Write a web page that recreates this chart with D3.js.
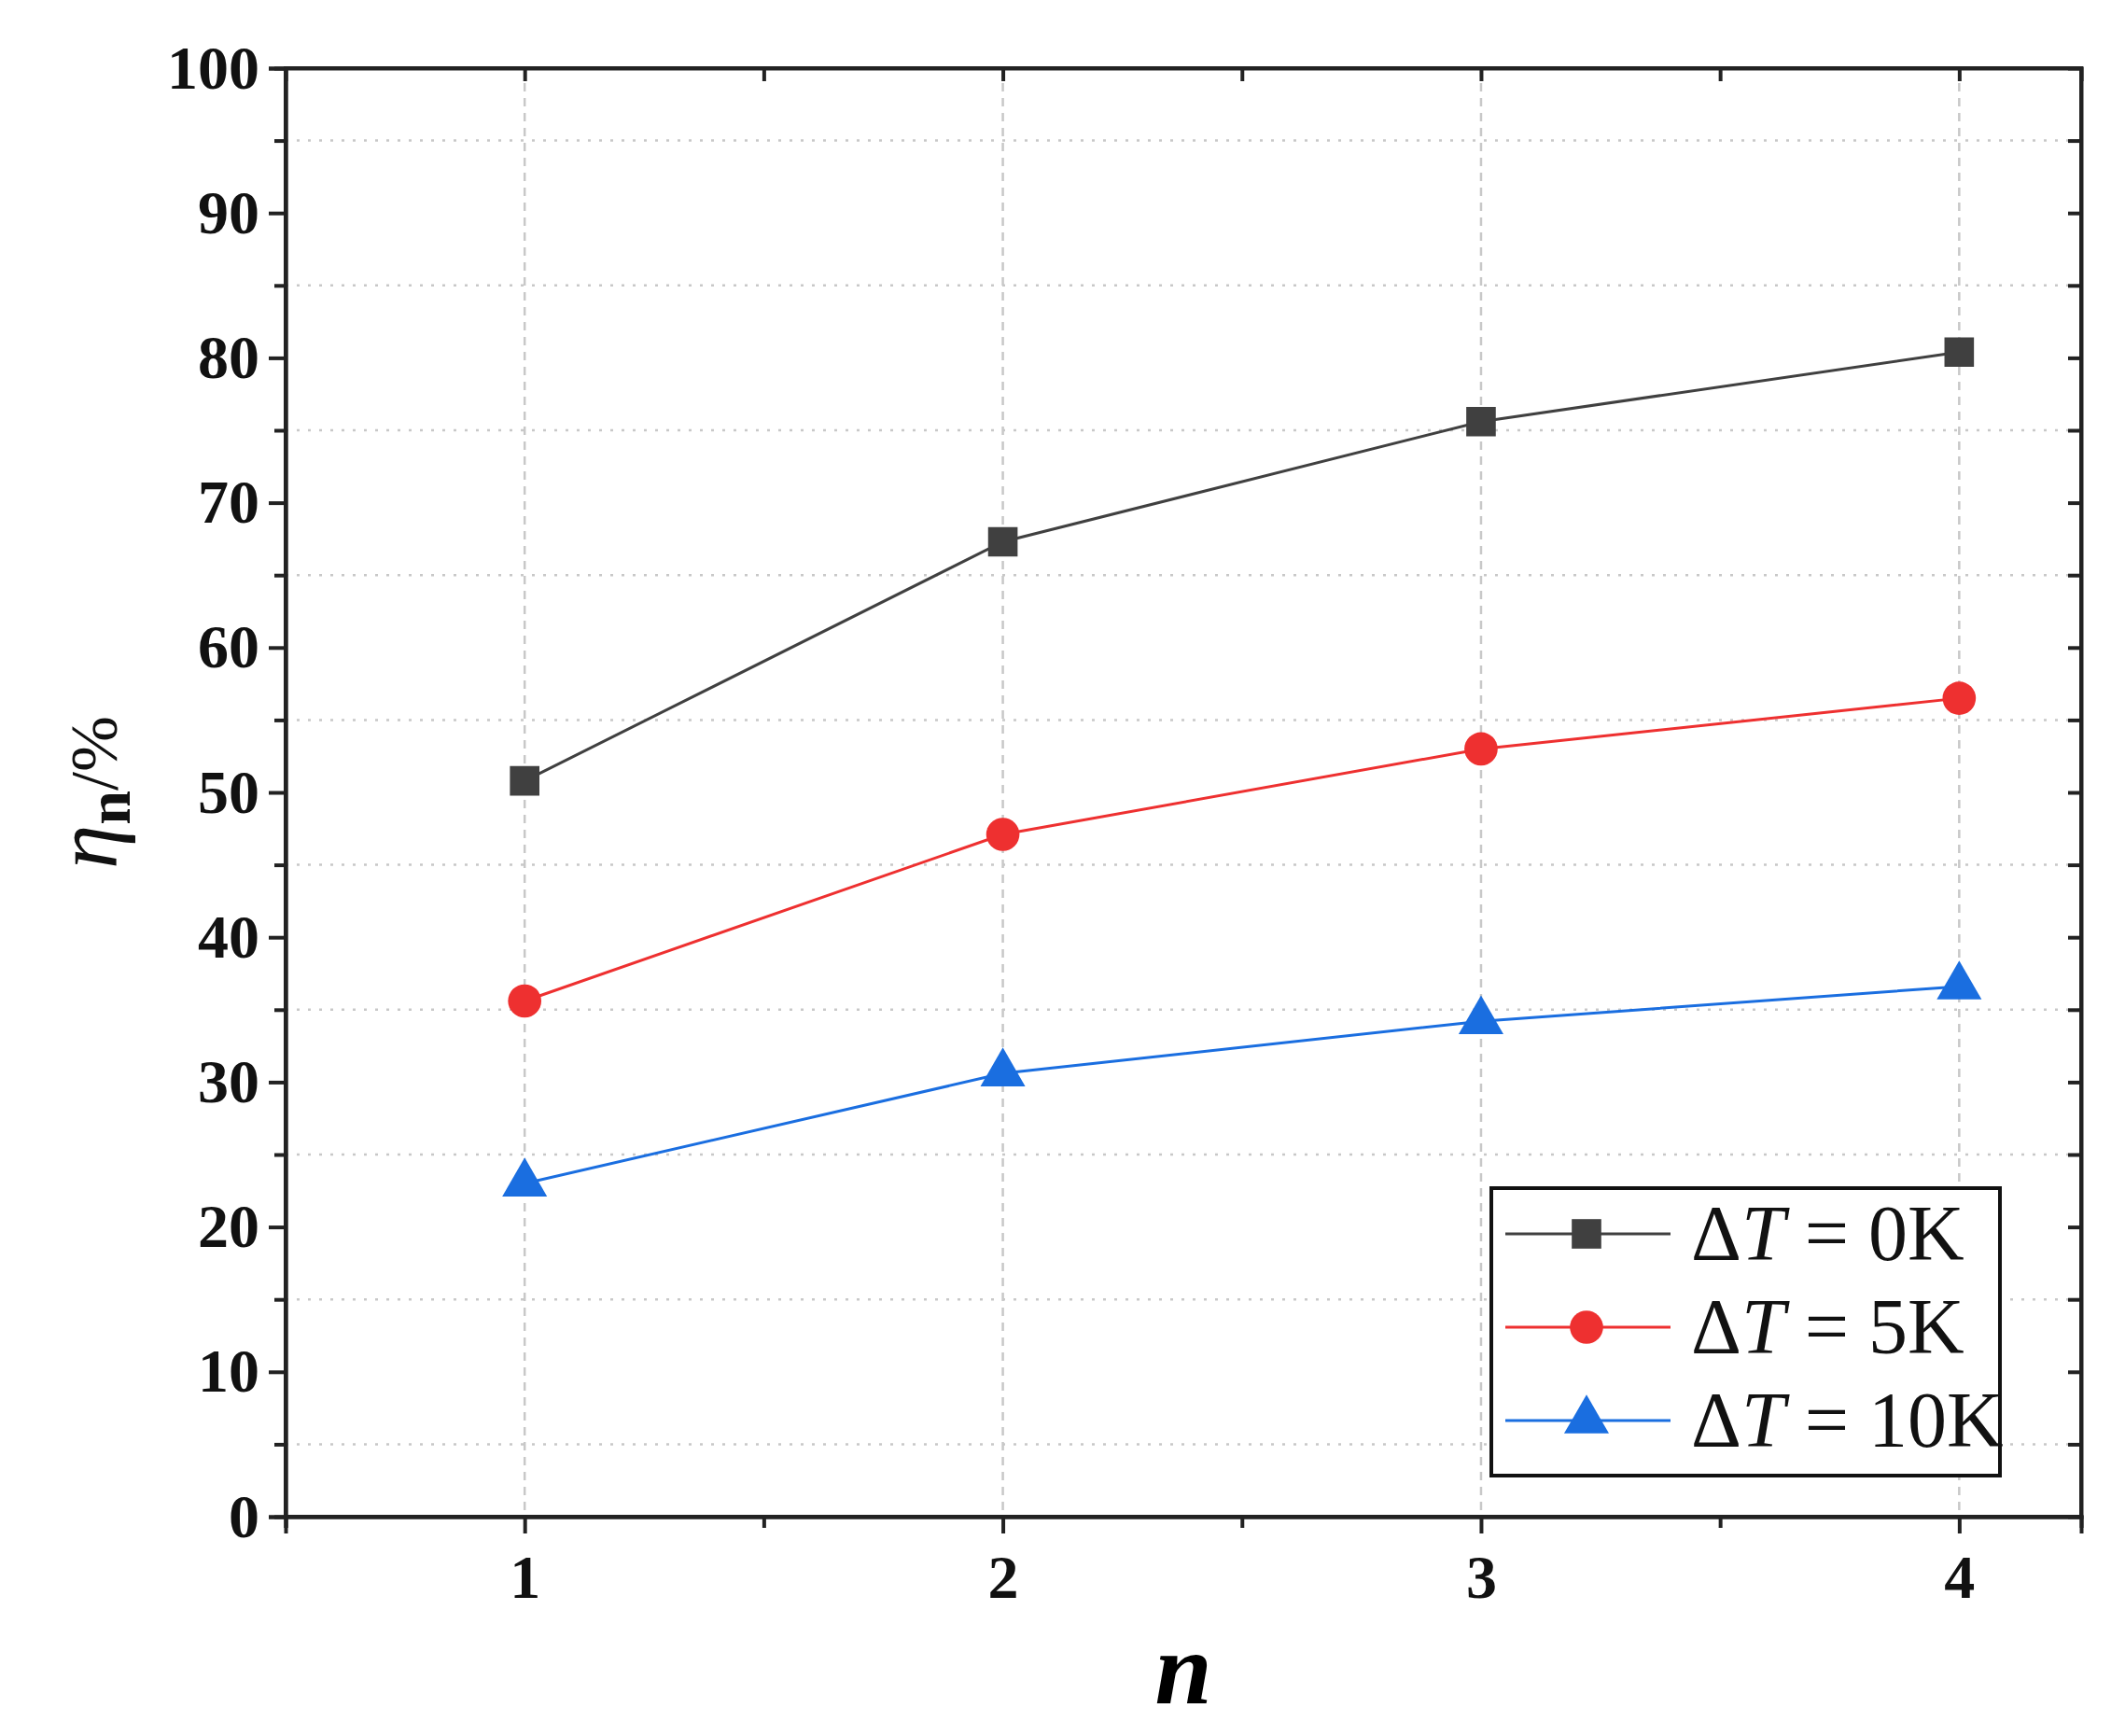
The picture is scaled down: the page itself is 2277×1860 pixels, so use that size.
<!DOCTYPE html><html><head><meta charset="utf-8">
<script src="https://cdn.jsdelivr.net/npm/d3@7"></script>
<style>body{margin:0;background:#fff} text{font-family:'Liberation Serif','Times New Roman',serif}</style></head><body>
<svg id="c" width="2277" height="1860"></svg>
<script>
const nValues=[1,2,3,4];
const dT0=[50.8,67.3,75.6,80.4];
const dT5=[35.6,47.1,53.0,56.5];
const dT10=[23.0,30.6,34.2,36.6];
const seriesNames=["0K","5K","10K"];
const yTicks=[0,10,20,30,40,50,60,70,80,90,100];

const svg=d3.select("#c");
const L=306,R=2230,T=73,B=1625;
const x=d3.scaleLinear().domain([0.5,4.255]).range([L,R]);
const y=d3.scaleLinear().domain([0,100]).range([B,T]);
const F="'Liberation Serif','Times New Roman',serif";
const g=svg.append("g");
g.selectAll(".hg").data(d3.range(5,100,10)).enter().append("line")
 .attr("x1",L).attr("x2",R).attr("y1",d=>y(d)).attr("y2",d=>y(d))
 .attr("stroke","#c8c8c8").attr("stroke-width",2.5).attr("stroke-dasharray","3,9");
g.selectAll(".vg").data(nValues).enter().append("line")
 .attr("y1",T).attr("y2",B).attr("x1",d=>x(d)).attr("x2",d=>x(d))
 .attr("stroke","#c8c8c8").attr("stroke-width",2.5).attr("stroke-dasharray","9,7");
svg.append("g").attr("transform",`translate(0,${B})`).call(d3.axisBottom(x).tickValues(nValues).tickSize(18).tickPadding(22).tickFormat(d3.format("d")));
svg.append("g").attr("transform",`translate(0,${B})`).call(d3.axisBottom(x).tickValues([0.5,1.5,2.5,3.5]).tickSize(12).tickFormat(""));
svg.append("g").attr("transform",`translate(${L},0)`).call(d3.axisLeft(y).tickValues(yTicks).tickSize(18).tickPadding(10));
svg.append("g").attr("transform",`translate(${L},0)`).call(d3.axisLeft(y).tickValues(d3.range(5,100,10)).tickSize(12).tickFormat(""));
svg.append("g").attr("transform",`translate(${R},0)`).call(d3.axisRight(y).tickValues(d3.range(5,100,5)).tickSize(-14).tickFormat(""));
svg.append("g").attr("transform",`translate(0,${T})`).call(d3.axisTop(x).tickValues([1,1.5,2,2.5,3,3.5,4]).tickSize(-14).tickFormat(""));
svg.selectAll(".domain").attr("stroke","#222").attr("stroke-width",4);
svg.selectAll(".tick line").attr("stroke","#222").attr("stroke-width",4);
svg.selectAll(".tick text").attr("font-family",F).attr("font-weight","bold").attr("font-size",66).attr("fill","#111");
svg.append("rect").attr("x",L).attr("y",T).attr("width",R-L).attr("height",B-T).attr("fill","none").attr("stroke","#222").attr("stroke-width",4);
const cols=["#404040","#ee3030","#1a6ee0"];
const data=[dT0,dT5,dT10];
const line=d3.line().x((d,i)=>x(nValues[i])).y(d=>y(d));
const sym=[d3.symbolSquare,d3.symbolCircle,d3.symbolTriangle];
data.forEach((s,k)=>{
 svg.append("path").datum(s).attr("d",line).attr("fill","none").attr("stroke",cols[k]).attr("stroke-width",3);
 svg.selectAll(".m"+k).data(s).enter().append("path")
  .attr("d",d3.symbol().type(sym[k]).size(1000))
  .attr("transform",(d,i)=>`translate(${x(nValues[i])},${y(d)})`).attr("fill",cols[k]);
});
const lg=svg.append("g");
lg.append("rect").attr("x",1598).attr("y",1273).attr("width",545).attr("height",308).attr("fill","#fff").attr("stroke","#111").attr("stroke-width",4);
seriesNames.forEach((nm,k)=>{
 const yy=1322+k*100;
 lg.append("line").attr("x1",1613).attr("x2",1790).attr("y1",yy).attr("y2",yy).attr("stroke",cols[k]).attr("stroke-width",3);
 lg.append("path").attr("d",d3.symbol().type(sym[k]).size(1000)).attr("transform",`translate(1700,${yy})`).attr("fill",cols[k]);
 const t=lg.append("text").attr("x",1812).attr("y",yy+28).attr("font-family",F).attr("font-size",84).attr("fill","#111");
 t.append("tspan").text("Δ");
 t.append("tspan").attr("font-style","italic").text("T");
 t.append("tspan").text(" = "+nm);
});
svg.append("text").attr("x",(L+R)/2).attr("y",1825).attr("text-anchor","middle").attr("font-family",F).attr("font-style","italic").attr("font-weight","bold").attr("font-size",110).text("n");
const yl=svg.append("text").attr("transform",`translate(125,${(T+B)/2}) rotate(-90)`).attr("text-anchor","middle").attr("font-family",F).attr("font-size",95).attr("fill","#111");
yl.append("tspan").attr("font-style","italic").text("η");
yl.append("tspan").attr("font-weight","bold").attr("font-size",66).attr("dy",14).text("n");
yl.append("tspan").attr("dy",-14).attr("font-size",72).text("/%");
</script></body></html>
